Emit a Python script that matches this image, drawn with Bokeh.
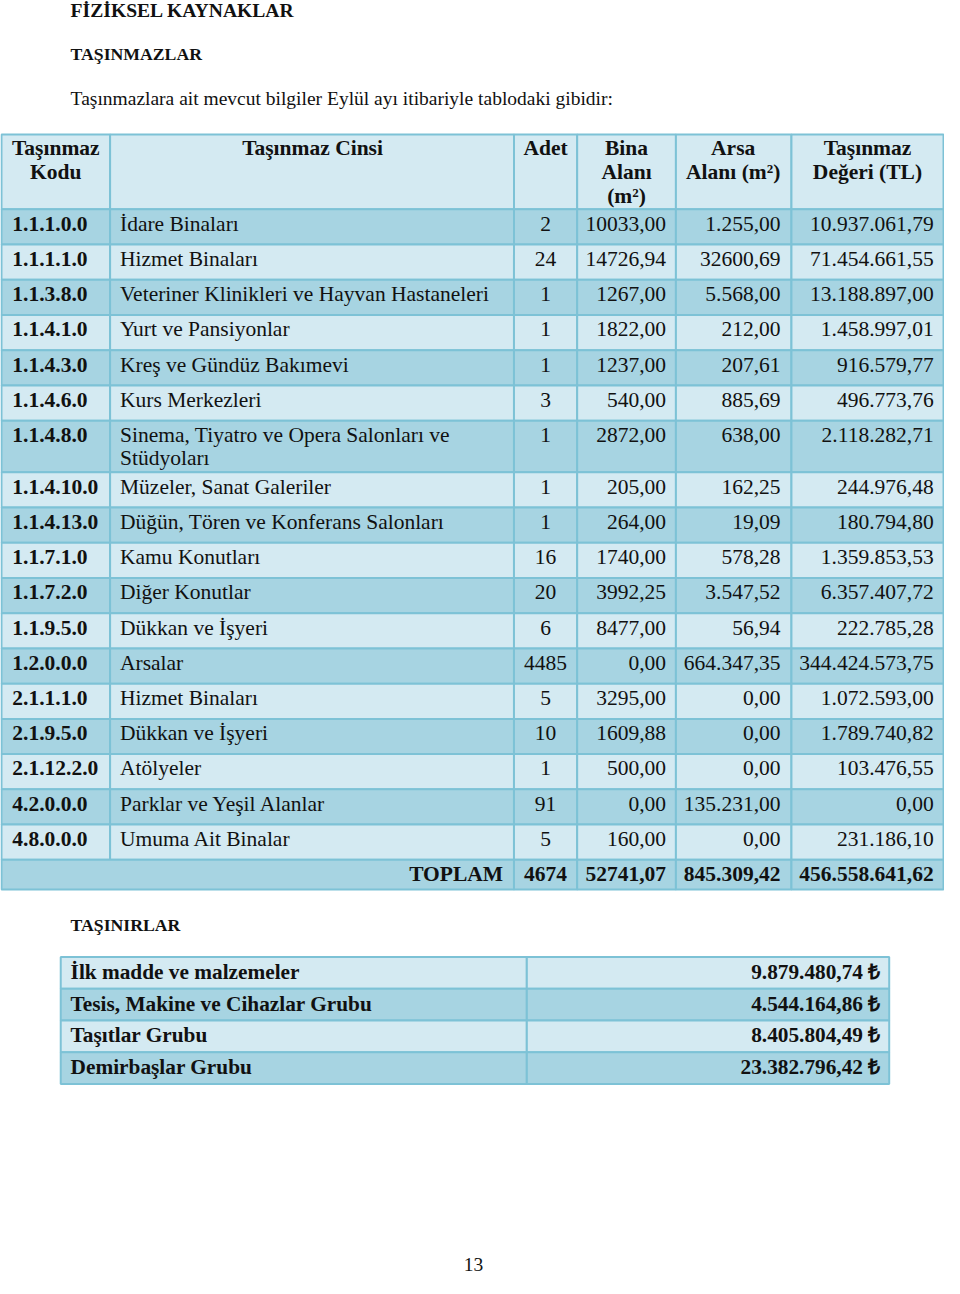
from bokeh.plotting import figure
from bokeh.models import Range1d, ColumnDataSource
from bokeh.core.properties import value
from bokeh.embed import file_html
from bokeh.resources import INLINE

# ---------------- data ----------------
page_title = "FİZİKSEL KAYNAKLAR"
section1 = "TAŞINMAZLAR"
intro = "Taşınmazlara ait mevcut bilgiler Eylül ayı itibariyle tablodaki gibidir:"
section2 = "TAŞINIRLAR"
page_no = "13"

headers = ["Taşınmaz\nKodu", "Taşınmaz Cinsi", "Adet", "Bina\nAlanı\n(m²)",
           "Arsa\nAlanı (m²)", "Taşınmaz\nDeğeri (TL)"]

codes = ["1.1.1.0.0", "1.1.1.1.0", "1.1.3.8.0", "1.1.4.1.0", "1.1.4.3.0", "1.1.4.6.0",
         "1.1.4.8.0", "1.1.4.10.0", "1.1.4.13.0", "1.1.7.1.0", "1.1.7.2.0", "1.1.9.5.0",
         "1.2.0.0.0", "2.1.1.1.0", "2.1.9.5.0", "2.1.12.2.0", "4.2.0.0.0", "4.8.0.0.0"]
names = ["İdare Binaları", "Hizmet Binaları", "Veteriner Klinikleri ve Hayvan Hastaneleri",
         "Yurt ve Pansiyonlar", "Kreş ve Gündüz Bakımevi", "Kurs Merkezleri",
         "Sinema, Tiyatro ve Opera Salonları ve\nStüdyoları", "Müzeler, Sanat Galeriler",
         "Düğün, Tören ve Konferans Salonları", "Kamu Konutları", "Diğer Konutlar",
         "Dükkan ve İşyeri", "Arsalar", "Hizmet Binaları", "Dükkan ve İşyeri", "Atölyeler",
         "Parklar ve Yeşil Alanlar", "Umuma Ait Binalar"]
adet = ["2", "24", "1", "1", "1", "3", "1", "1", "1", "16", "20", "6", "4485", "5", "10",
        "1", "91", "5"]
bina = ["10033,00", "14726,94", "1267,00", "1822,00", "1237,00", "540,00", "2872,00",
        "205,00", "264,00", "1740,00", "3992,25", "8477,00", "0,00", "3295,00", "1609,88",
        "500,00", "0,00", "160,00"]
arsa = ["1.255,00", "32600,69", "5.568,00", "212,00", "207,61", "885,69", "638,00",
        "162,25", "19,09", "578,28", "3.547,52", "56,94", "664.347,35", "0,00", "0,00",
        "0,00", "135.231,00", "0,00"]
deger = ["10.937.061,79", "71.454.661,55", "13.188.897,00", "1.458.997,01", "916.579,77",
         "496.773,76", "2.118.282,71", "244.976,48", "180.794,80", "1.359.853,53",
         "6.357.407,72", "222.785,28", "344.424.573,75", "1.072.593,00", "1.789.740,82",
         "103.476,55", "0,00", "231.186,10"]
total_label = "TOPLAM"
totals = ["4674", "52741,07", "845.309,42", "456.558.641,62"]

movable_items = ["İlk madde ve malzemeler", "Tesis, Makine ve Cihazlar Grubu",
                 "Taşıtlar Grubu", "Demirbaşlar Grubu"]
movable_values = ["9.879.480,74 ₺", "4.544.164,86 ₺", "8.405.804,49 ₺", "23.382.796,42 ₺"]

# ---------------- style / layout ----------------
LIGHT = "#d4eaf2"
DARK = "#a7d4e2"
BORDER = "#7dc2d6"
SERIF = value("Liberation Serif")
INK = "#111111"
FS = 21.5

p = figure(width=944, height=1278, output_backend="svg", toolbar_location=None,
           x_range=Range1d(2, 958), y_range=Range1d(1290, 2))
p.axis.visible = False
p.grid.visible = False
p.outline_line_color = None
p.min_border = 0
p.background_fill_color = "white"

# column edges of table 1
col_edges = [3, 113, 522, 586, 686, 803, 957]

# row geometry
t_top = 137
hdr_h = 75.5
row_h = 35.5
line_gap = 23

row_tops, row_bots = [], []
y = t_top + hdr_h
for n in names:
    nlines = n.count("\n") + 1
    h = row_h + (nlines - 1) * (52 - row_h)
    row_tops.append(y)
    row_bots.append(y + h)
    y += h
tot_top = y
tot_bot = y + 30

# cells
ql, qr, qt, qb, qc = [], [], [], [], []
for i in range(len(col_edges) - 1):
    ql.append(col_edges[i]); qr.append(col_edges[i + 1])
    qt.append(t_top); qb.append(t_top + hdr_h); qc.append(LIGHT)
for r in range(len(names)):
    col = DARK if r % 2 == 0 else LIGHT
    for i in range(len(col_edges) - 1):
        ql.append(col_edges[i]); qr.append(col_edges[i + 1])
        qt.append(row_tops[r]); qb.append(row_bots[r]); qc.append(col)
tot_edges = [col_edges[0]] + col_edges[2:]
for i in range(len(tot_edges) - 1):
    ql.append(tot_edges[i]); qr.append(tot_edges[i + 1])
    qt.append(tot_top); qb.append(tot_bot); qc.append(DARK)

# table 2 cells
t2_edges = [63, 535, 902]
t2_top = 966
t2_h = 32
for r in range(len(movable_items)):
    col = LIGHT if r % 2 == 0 else DARK
    for i in range(2):
        ql.append(t2_edges[i]); qr.append(t2_edges[i + 1])
        qt.append(t2_top + r * t2_h); qb.append(t2_top + (r + 1) * t2_h); qc.append(col)

p.quad(left=ql, right=qr, top=qt, bottom=qb, fill_color=qc,
       line_color=BORDER, line_width=2)

def add_text(xs, ys, txt, align, size, bold=False, color=INK):
    src = ColumnDataSource(dict(x=xs, y=ys, t=txt))
    p.text(x="x", y="y", text="t", source=src, text_align=align,
           text_baseline="middle", text_font=SERIF, text_font_size=f"{size}px",
           text_font_style="bold" if bold else "normal", text_color=color)

# headings
add_text([73], [12], [page_title], "left", 19.6, True)
add_text([73], [56], [section1], "left", 17.7, True)
add_text([73], [101], [intro], "left", 19.5)
add_text([73], [934], [section2], "left", 17.7, True)
add_text([481], [1276], [page_no], "center", 19.5)

# header texts
hx = [58, 318, 554, 636, 744, 880]
hxs, hys, hts = [], [], []
for xh, h in zip(hx, headers):
    for k, line in enumerate(h.split("\n")):
        hxs.append(xh); hys.append(t_top + 14 + k * 24); hts.append(line)
add_text(hxs, hys, hts, "center", FS, True)

# body texts
cy = [t + 14.5 for t in row_tops]
add_text([14] * len(codes), cy, codes, "left", FS, True)
nx, ny, nt = [], [], []
for t, n in zip(row_tops, names):
    for k, line in enumerate(n.split("\n")):
        nx.append(123); ny.append(t + 14.5 + k * line_gap); nt.append(line)
add_text(nx, ny, nt, "left", FS)
add_text([554] * len(adet), cy, adet, "center", FS)
add_text([676] * len(bina), cy, bina, "right", FS)
add_text([792] * len(arsa), cy, arsa, "right", FS)
add_text([947] * len(deger), cy, deger, "right", FS)

# totals
ty = tot_top + 14
add_text([511], [ty], [total_label], "right", FS, True)
add_text([554], [ty], [totals[0]], "center", FS, True)
add_text([676, 792, 947], [ty] * 3, totals[1:], "right", FS, True)

# table 2 texts
ry = [t2_top + r * t2_h + 15 for r in range(len(movable_items))]
add_text([73] * len(movable_items), ry, movable_items, "left", 21.3, True)
add_text([893] * len(movable_values), ry, movable_values, "right", 21.3, True)

open("out.html", "w").write(file_html(p, INLINE))
